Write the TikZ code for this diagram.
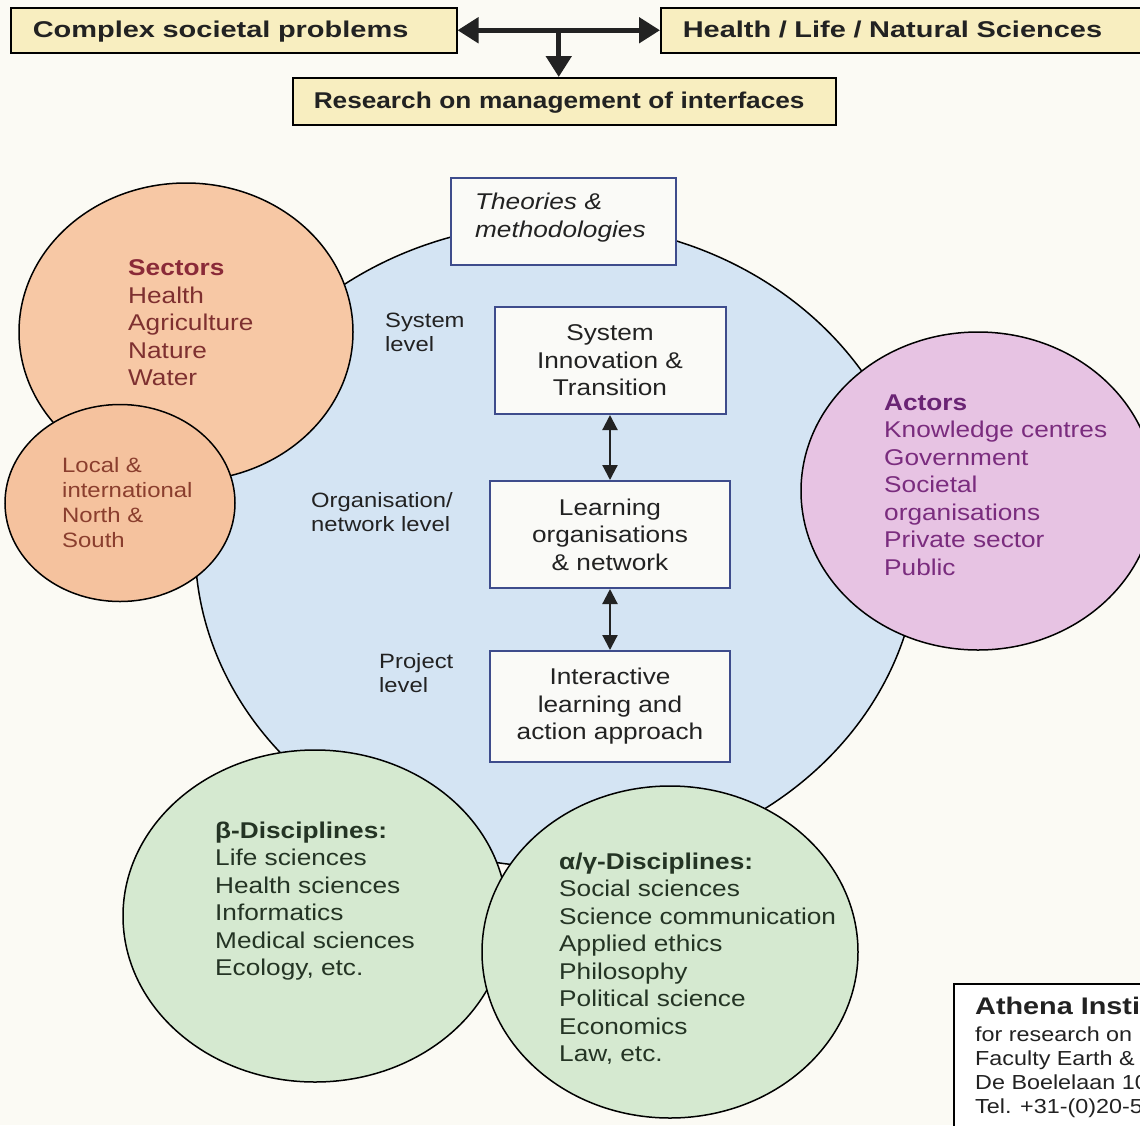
\documentclass[tikz,border=0pt]{standalone}
\usepackage{fontspec}
\setmainfont{Liberation Sans}[FakeStretch=1.15]
\newfontfamily\headfont{Liberation Sans}[FakeStretch=1.27]
\newfontfamily\titlefont{Liberation Sans}[FakeStretch=1.2]
\usetikzlibrary{arrows.meta,calc}

\definecolor{paper}{HTML}{FBFAF4}
\definecolor{headyellow}{HTML}{F8EEC0}
\definecolor{skyblue}{HTML}{D4E4F3}
\definecolor{peach}{HTML}{F7C8A5}
\definecolor{peachdeep}{HTML}{F5C29E}
\definecolor{lilac}{HTML}{E7C3E3}
\definecolor{mint}{HTML}{D5E9D0}
\definecolor{boxblue}{HTML}{3E4C8C}
\definecolor{boxfill}{HTML}{FAFAF7}
\definecolor{textdark}{HTML}{222222}
\definecolor{sectred}{HTML}{8A2A38}
\definecolor{sectbrown}{HTML}{7E3030}
\definecolor{localbrown}{HTML}{8A3E2E}
\definecolor{actpurple}{HTML}{7A2C7E}
\definecolor{actbold}{HTML}{6A2474}
\definecolor{greentext}{HTML}{243424}

\tikzset{
  headbox/.style={draw=black, line width=1.5pt, fill=headyellow, anchor=north west,
    align=left, inner xsep=22pt, inner ysep=0pt, minimum height=45pt, text=textdark,
    text depth=2pt, font=\headfont\bfseries\fontsize{22.8}{27}\selectfont},
  bigarrow/.style={line width=5pt, draw=textdark,
    -{Triangle[length=21pt,width=25pt]}},
  bigdouble/.style={line width=5pt, draw=textdark,
    {Triangle[length=21pt,width=25pt]}-{Triangle[length=21pt,width=25pt]}},
  levelbox/.style={draw=boxblue, line width=2pt, fill=boxfill, align=center,
    inner sep=0pt, text=textdark, font=\fontsize{22.8}{27.5}\selectfont},
  linkarrow/.style={line width=2.2pt, draw=textdark,
    {Triangle[length=15pt,width=15pt]}-{Triangle[length=15pt,width=15pt]}},
  ring/.style={draw=black, line width=1.5pt},
  listtext/.style={anchor=north west, align=left, inner sep=0pt,
    font=\fontsize{22.8}{27.5}\selectfont},
  leveltext/.style={anchor=north west, align=left, inner sep=0pt, text=textdark,
    font=\fontsize{20.7}{24.5}\selectfont},
}

\begin{document}
\begin{tikzpicture}[x=1pt,y=-1pt]
\useasboundingbox (0,0) rectangle (1140,1125);
\fill[paper] (0,0) rectangle (1140,1125);

% --- header row -------------------------------------------------------
\node[headbox, text width=402pt] (cplx) at (10,7) {Complex societal problems};
\node[headbox, text width=460pt] (hlns) at (660,7) {Health / Life / Natural Sciences};
\node[headbox, text width=501pt, inner xsep=21pt, minimum height=47pt,
  font=\bfseries\fontsize{22.8}{27}\selectfont] (research) at (292,77)
  {Research on management of interfaces};
\coordinate (fork) at ($(cplx.east)!0.5!(hlns.west)$);
\draw[bigdouble] (cplx.east) -- (hlns.west);
\draw[bigarrow] (fork) -- (fork |- research.north);

% --- central circle with the three levels ------------------------------
\path[fill=skyblue, ring] (557,545) ellipse [x radius=362, y radius=322];

\node[draw=boxblue, line width=2.2pt, fill=boxfill, anchor=north west, align=left,
  text width=177pt, inner xsep=24pt, minimum height=87pt, text depth=40pt,
  text=textdark, font=\itshape\fontsize{22.8}{28}\selectfont] (theory) at (450,177)
  {Theories \&\\methodologies};

\node[levelbox, minimum width=231pt, minimum height=107pt] (sys) at (610,360.5)
  {System\\Innovation \&\\Transition};
\node[levelbox, minimum width=240pt, minimum height=107pt] (learn) at (610,534.5)
  {Learning\\organisations\\\& network};
\node[levelbox, minimum width=240pt, minimum height=111pt] (inter) at (610,706.5)
  {Interactive\\learning and\\action approach};
\draw[linkarrow] (sys.south) -- (learn.north);
\draw[linkarrow] (learn.south) -- (inter.north);

\node[leveltext] (lvsys) at (385,312.5) {System\\level};
\node[leveltext] (lvorg) at (311,492) {Organisation/\\network level};
\node[leveltext] (lvproj) at (379,653) {Project\\level};

% --- surrounding circles ----------------------------------------------
\path[fill=peach, ring] (186,332) ellipse [x radius=167, y radius=149];
\path[fill=peachdeep, ring] (120,503) ellipse [x radius=115, y radius=98.5];
\path[fill=lilac, ring] (978,491) ellipse [x radius=177, y radius=159];
\path[fill=mint, ring] (315,916) ellipse [x radius=192, y radius=166];
\path[fill=mint, ring] (670,952) ellipse [x radius=188, y radius=166];

\node[listtext, text=sectbrown] (sectors) at (128,259.5)
  {\textcolor{sectred}{\bfseries Sectors}\\Health\\Agriculture\\Nature\\Water};
\node[listtext, text=localbrown, font=\fontsize{20.8}{25}\selectfont] (local) at (62,457)
  {Local \&\\international\\North \&\\South};
\node[listtext, text=actpurple] (actors) at (884,394.5)
  {\textcolor{actbold}{\bfseries Actors}\\Knowledge centres\\Government\\Societal\\organisations\\Private sector\\Public};
\node[listtext, text=greentext] (beta) at (215,821.5)
  {{\bfseries β-Disciplines:}\\Life sciences\\Health sciences\\Informatics\\Medical sciences\\Ecology, etc.};
\node[listtext, text=greentext] (alpha) at (559,852.5)
  {{\bfseries α/γ-Disciplines:}\\Social sciences\\Science communication\\Applied ethics\\Philosophy\\Political science\\Economics\\Law, etc.};

% --- institute label, running off the page edge ------------------------
\node[draw=black, line width=1.5pt, fill=white, anchor=north west, inner sep=0pt,
  minimum width=220pt, minimum height=170pt] (athena) at (953,983) {};
\node[anchor=north west, inner sep=0pt, text=textdark,
  font=\titlefont\bfseries\fontsize{24}{28}\selectfont] (athtitle) at (975,997) {Athena Insti};
\node[anchor=north west, inner sep=0pt, align=left, text=textdark,
  font=\fontsize{20.3}{24}\selectfont] (athtext) at (975,1026.5)
  {for research on\\Faculty Earth \&\\De Boelelaan 10\\Tel. +31-(0)20-5};
\end{tikzpicture}
\end{document}
